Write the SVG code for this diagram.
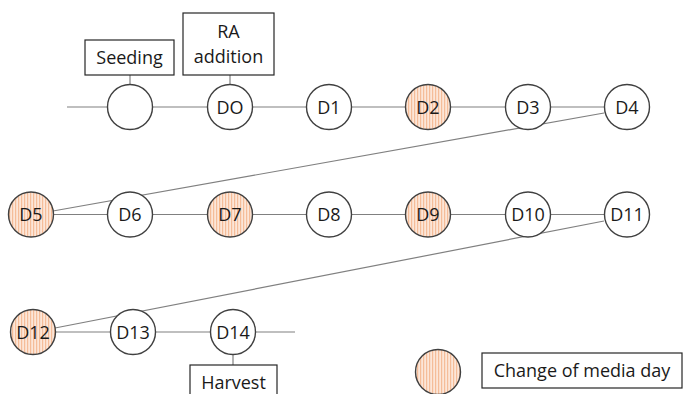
<svg xmlns="http://www.w3.org/2000/svg" width="683" height="394" viewBox="0 0 683 394">
<defs>
<pattern id="stripes" width="3" height="4" patternUnits="userSpaceOnUse">
<rect width="3" height="4" fill="#fce6d8"/>
<rect x="0" width="1.2" height="4" fill="#f5bd99"/>
</pattern>
<style>
.ln{stroke:#808080;stroke-width:1.2;fill:none}
.nd{fill:#fff;stroke:#404040;stroke-width:1.4}
.md{fill:url(#stripes);stroke:#404040;stroke-width:1.4}
.bx{fill:#fff;stroke:#262626;stroke-width:1.2}
text{font-family:"Open Sans","Liberation Sans",sans-serif;font-size:18px;fill:#1a1a1a;text-anchor:middle}
</style>
</defs>
<rect width="683" height="394" fill="#fff"/>
<g id="connectors">
<line class="ln" x1="67" y1="107" x2="605" y2="107"/>
<line class="ln" x1="604" y1="113" x2="53" y2="211"/>
<line class="ln" x1="31" y1="214.5" x2="605" y2="214.5"/>
<line class="ln" x1="604" y1="221" x2="55" y2="328"/>
<line class="ln" x1="33" y1="332" x2="295" y2="332"/>
<line class="ln" x1="130" y1="75" x2="130" y2="85"/>
<line class="ln" x1="230" y1="75" x2="230" y2="85"/>
<line class="ln" x1="233" y1="354" x2="233" y2="365"/>
</g>
<g id="seeding-label"><rect class="bx" x="85" y="40" width="89" height="35"/><text x="129.5" y="64">Seeding</text></g>
<g id="ra-label"><rect class="bx" x="183" y="13" width="91" height="62"/><text x="228.5" y="38">RA</text><text x="228.5" y="63">addition</text></g>
<g id="seed"><circle class="nd" cx="130" cy="107" r="22.5"/></g>
<g id="d0"><circle class="nd" cx="230" cy="107" r="22.5"/><text x="230" y="113.5">DO</text></g>
<g id="d1"><circle class="nd" cx="329" cy="107" r="22.5"/><text x="329" y="113.5">D1</text></g>
<g id="d2"><circle class="md" cx="428" cy="107" r="22.5"/><text x="428" y="113.5">D2</text></g>
<g id="d3"><circle class="nd" cx="528" cy="107" r="22.5"/><text x="528" y="113.5">D3</text></g>
<g id="d4"><circle class="nd" cx="627" cy="107" r="22.5"/><text x="627" y="113.5">D4</text></g>
<g id="d5"><circle class="md" cx="31" cy="214.5" r="22.5"/><text x="31" y="221">D5</text></g>
<g id="d6"><circle class="nd" cx="130" cy="214.5" r="22.5"/><text x="130" y="221">D6</text></g>
<g id="d7"><circle class="md" cx="230" cy="214.5" r="22.5"/><text x="230" y="221">D7</text></g>
<g id="d8"><circle class="nd" cx="329" cy="214.5" r="22.5"/><text x="329" y="221">D8</text></g>
<g id="d9"><circle class="md" cx="428" cy="214.5" r="22.5"/><text x="428" y="221">D9</text></g>
<g id="d10"><circle class="nd" cx="528" cy="214.5" r="22.5"/><text x="528" y="221">D10</text></g>
<g id="d11"><circle class="nd" cx="627" cy="214.5" r="22.5"/><text x="627" y="221">D11</text></g>
<g id="d12"><circle class="md" cx="33" cy="332" r="22.5"/><text x="33" y="338.5">D12</text></g>
<g id="d13"><circle class="nd" cx="133" cy="332" r="22.5"/><text x="133" y="338.5">D13</text></g>
<g id="d14"><circle class="nd" cx="233" cy="332" r="22.5"/><text x="233" y="338.5">D14</text></g>
<g id="harvest-label"><rect class="bx" x="190" y="365" width="87" height="40"/><text x="233.5" y="389">Harvest</text></g>
<g id="legend"><circle class="md" cx="438" cy="372" r="22.5"/><rect class="bx" x="482" y="353" width="200" height="35"/><text x="582" y="377">Change of media day</text></g>
</svg>
